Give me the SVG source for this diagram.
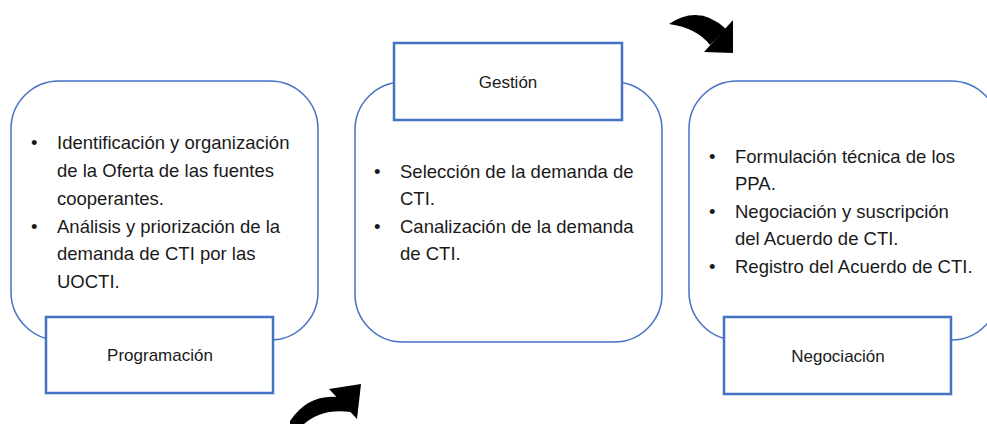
<svg xmlns="http://www.w3.org/2000/svg" width="987" height="424" viewBox="0 0 987 424">
<style>
.card{fill:#fff;stroke:#4472C4;stroke-width:1.5}
.lab{fill:#fff;stroke:#4472C4;stroke-width:2.5}
text{font-family:"Liberation Sans",Arial,sans-serif;font-size:18.5px;fill:#1a1a1a}
.c{text-anchor:middle;font-size:17px}
.arr{fill:#000}
</style>
<rect width="987" height="424" fill="#fff"/>
<g id="connectors">
<path class="arr" d="M669,24 Q699,4 726,29 L710,45 Q697,28 669,24 Z"/>
<polygon class="arr" points="733,20 733,53 704,52"/>
<path class="arr" d="M290,421 Q308,394 338,397 L351,412 Q322,408 304,424 L290,424 Z"/>
<polygon class="arr" points="361,384 329,389 357,419"/>
</g>
<g id="programacion">
<rect class="card" x="11" y="81" width="307" height="259" rx="48"/>
<rect class="lab" x="46" y="317" width="227" height="76"/>
<text class="c" x="160" y="361">Programación</text>
<text x="31" y="149">•</text><text x="57" y="149">Identificación y organización</text>
<text x="57" y="177">de la Oferta de las fuentes</text>
<text x="57" y="205">cooperantes.</text>
<text x="31" y="233">•</text><text x="57" y="233">Análisis y priorización de la</text>
<text x="57" y="260">demanda de CTI por las</text>
<text x="57" y="288">UOCTI.</text>
</g>
<g id="gestion">
<rect class="card" x="355" y="82" width="307" height="260" rx="48"/>
<rect class="lab" x="394" y="43" width="228" height="77"/>
<text class="c" x="508" y="88">Gestión</text>
<text x="374" y="178">•</text><text x="400" y="178">Selección de la demanda de</text>
<text x="400" y="205">CTI.</text>
<text x="374" y="233">•</text><text x="400" y="233">Canalización de la demanda</text>
<text x="400" y="260">de CTI.</text>
</g>
<g id="negociacion">
<rect class="card" x="689" y="81" width="310" height="259" rx="48"/>
<rect class="lab" x="724" y="317" width="227" height="77"/>
<text class="c" x="838" y="362">Negociación</text>
<text x="709" y="163">•</text><text x="735" y="163">Formulación técnica de los</text>
<text x="735" y="190">PPA.</text>
<text x="709" y="218">•</text><text x="735" y="218">Negociación y suscripción</text>
<text x="735" y="245">del Acuerdo de CTI.</text>
<text x="709" y="273">•</text><text x="735" y="273">Registro del Acuerdo de CTI.</text>
</g>
</svg>
